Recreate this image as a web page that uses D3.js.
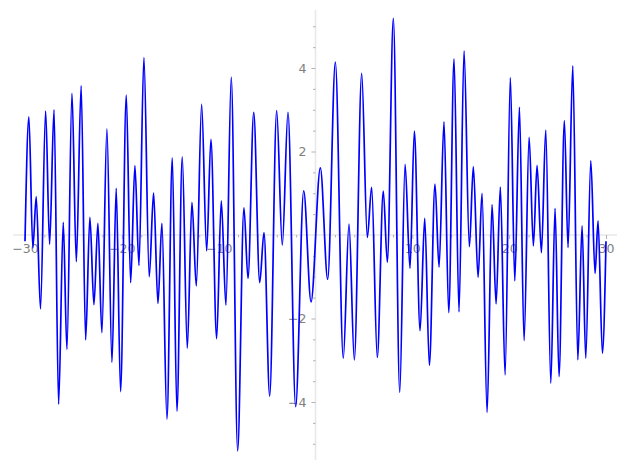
<!DOCTYPE html>
<html>
<head>
<meta charset="utf-8">
<script src="https://cdn.jsdelivr.net/npm/d3@7"></script>
<style>
  html, body { margin: 0; padding: 0; background: #ffffff; }
  svg { display: block; }
  text { font-family: "DejaVu Sans", sans-serif; }
</style>
</head>
<body>
<svg id="chart" width="627" height="470"></svg>
<script>
// Local extrema of the curve (x, y), in order
const curveX = [
  -30.0, -29.6, -29.19, -28.84, -28.4, -27.87, -27.46, -27.0, -26.53, -26.05,
  -25.67, -25.15, -24.7, -24.2, -23.74, -23.3, -22.88, -22.47, -22.06, -21.54,
  -21.02, -20.58, -20.13, -19.54, -19.09, -18.65, -18.23, -17.72, -17.17, -16.72,
  -16.27, -15.86, -15.34, -14.79, -14.31, -13.76, -13.24, -12.76, -12.31, -11.76,
  -11.24, -10.8, -10.21, -9.73, -9.25, -8.7, -8.04, -7.39, -6.97, -6.38,
  -5.76, -5.32, -4.73, -4.01, -3.43, -2.84, -2.05, -1.22, -0.46, 0.5,
  1.26, 2.05, 2.87, 3.46, 4.01, 4.77, 5.35, 5.8, 6.38, 7.0,
  7.42, 8.04, 8.7, 9.25, 9.76, 10.21, 10.8, 11.28, 11.76, 12.34,
  12.76, 13.27, 13.76, 14.31, 14.82, 15.34, 15.89, 16.3, 16.79, 17.2,
  17.72, 18.23, 18.65, 19.09, 19.58, 20.12, 20.58, 21.06, 21.54, 22.06,
  22.5, 22.88, 23.33, 23.78, 24.3, 24.74, 25.15, 25.7, 26.08, 26.57,
  27.09, 27.53, 27.91, 28.43, 28.87, 29.18, 29.63, 30.0
];
const curveY = [
  -0.15, 2.83, -0.31, 0.92, -1.77, 2.97, -0.22, 3.0, -4.05, 0.30,
  -2.74, 3.39, -0.64, 3.57, -2.51, 0.42, -1.67, 0.28, -2.34, 2.54,
  -3.05, 1.12, -3.75, 3.35, -1.14, 1.66, -0.73, 4.25, -1.0, 1.01,
  -1.64, 0.28, -4.41, 1.85, -4.22, 1.87, -2.71, 0.78, -1.22, 3.13,
  -0.38, 2.29, -2.48, 0.82, -1.68, 3.78, -5.17, 0.65, -1.04, 2.94,
  -1.14, 0.06, -3.86, 2.98, -0.24, 2.94, -4.11, 1.06, -1.6, 1.61,
  -1.06, 4.14, -2.95, 0.26, -2.99, 3.87, -0.06, 1.14, -2.93, 1.05,
  -0.65, 5.19, -3.77, 1.69, -0.8, 2.49, -2.29, 0.40, -3.12, 1.22,
  -0.77, 2.71, -1.86, 4.22, -1.84, 4.41, -0.28, 1.64, -1.01, 1.0,
  -4.25, 0.73, -1.65, 1.15, -3.35, 3.77, -1.1, 3.06, -2.53, 2.34,
  -0.26, 1.67, -0.42, 2.51, -3.55, 0.64, -3.39, 2.74, -0.3, 4.05,
  -2.99, 0.22, -2.95, 1.78, -0.92, 0.34, -2.83, -0.15
];
const xMajorTicks = [-30, -20, -10, 10, 20, 30];
const xMinorTicks = [-28, -26, -24, -22, -18, -16, -14, -12, -8, -6, -4, -2,
                     2, 4, 6, 8, 12, 14, 16, 18, 22, 24, 26, 28];
const yMajorTicks = [-4, -2, 2, 4];
const yMinorTicks = [-5, -4.5, -3.5, -3, -2.5, -1.5, -1, -0.5,
                     0.5, 1, 1.5, 2.5, 3, 3.5, 4.5, 5];

const svg = d3.select("#chart");
const x = d3.scaleLinear().domain([-30, 30]).range([25, 606]);
const y = d3.scaleLinear().domain([-4, 4]).range([402, 68]);

const axisColor = "#e8e8e8";
const tickColor = "#a0a0a0";
const labelColor = "#808080";

// axis lines
const x0 = x(0), y0 = y(0);
svg.append("line").attr("x1", 13).attr("x2", 617).attr("y1", y0).attr("y2", y0)
  .attr("stroke", axisColor).attr("stroke-width", 1.6);
svg.append("line").attr("x1", x0).attr("x2", x0).attr("y1", 10).attr("y2", 460)
  .attr("stroke", axisColor).attr("stroke-width", 1.6);

// x axis ticks
const gx = svg.append("g").attr("transform", `translate(0,${y0})`);
gx.call(d3.axisBottom(x).tickValues(xMajorTicks).tickSize(4).tickPadding(5)
  .tickFormat(d => d3.format("d")(d).replace("-", "\u2212")));
const gxm = svg.append("g").attr("transform", `translate(0,${y0})`);
gxm.call(d3.axisBottom(x).tickValues(xMinorTicks).tickSize(2.5).tickFormat(""));

// y axis ticks
const gy = svg.append("g").attr("transform", `translate(${x0},0)`);
gy.call(d3.axisLeft(y).tickValues(yMajorTicks).tickSize(4).tickPadding(5)
  .tickFormat(d => d3.format("d")(d).replace("-", "\u2212")));
const gym = svg.append("g").attr("transform", `translate(${x0},0)`);
gym.call(d3.axisLeft(y).tickValues(yMinorTicks).tickSize(2.5).tickFormat(""));

[gx, gxm, gy, gym].forEach(g => {
  g.select(".domain").remove();
  g.selectAll(".tick line").attr("stroke", tickColor).attr("stroke-width", 0.8);
  g.selectAll(".tick text").attr("fill", labelColor)
    .style("font-family", "'DejaVu Sans', sans-serif").style("font-size", "12.5px");
});

// curve
const pts = curveX.map((v, i) => [v, curveY[i]]);
const line = d3.line().x(d => x(d[0])).y(d => y(d[1])).curve(d3.curveMonotoneX);
svg.append("path").datum(pts).attr("d", line)
  .attr("fill", "none").attr("stroke", "#0000ff").attr("stroke-width", 1.7)
  .attr("stroke-linejoin", "round");
</script>
</body>
</html>
